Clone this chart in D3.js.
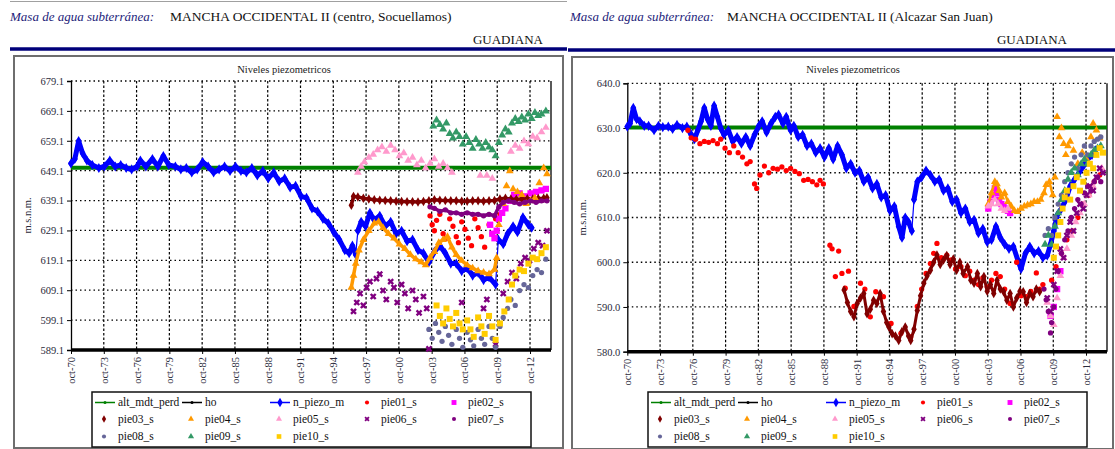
<!DOCTYPE html>
<html>
<head>
<meta charset="utf-8">
<script src="https://cdnjs.cloudflare.com/ajax/libs/d3/7.8.5/d3.min.js"></script>
<style>
  body { margin: 0; background: #fff; }
  svg { display: block; }
  svg text { font-family: 'Liberation Serif', 'Times New Roman', Times, serif; }
</style>
</head>
<body>
<svg id="chart" width="1115" height="449"></svg>
<script>
// ---- data ----
const seriesKeys = ["alt_mdt_perd", "ho", "n_piezo_m", "pie01_s", "pie02_s", "pie03_s", "pie04_s",
  "pie05_s", "pie06_s", "pie07_s", "pie08_s", "pie09_s", "pie10_s"];
const tickYears = [1970, 1973, 1976, 1979, 1982, 1985, 1988, 1991, 1994, 1997, 2000, 2003, 2006, 2009, 2012];
const tickLabels = ["oct-70", "oct-73", "oct-76", "oct-79", "oct-82", "oct-85", "oct-88", "oct-91",
  "oct-94", "oct-97", "oct-00", "oct-03", "oct-06", "oct-09", "oct-12"];
const timeRange = [1970.75, 2014.67];

// left: centro, Socuellamos
const leftYTicks = [589.1, 599.1, 609.1, 619.1, 629.1, 639.1, 649.1, 659.1, 669.1, 679.1];
const leftAlt = 650.1;
const leftHo = 589.1;
const leftPiezo = [[1970.75,651.5],[1971.1,653],[1971.45,659],[1971.8,655],[1972.2,652.5],[1972.7,651],[1973.3,650],[1973.8,650.5],[1974.3,652.5],[1974.8,650.5],[1975.3,651],[1975.8,650],[1976.3,649.5],[1976.8,650.5],[1977.1,652.5],[1977.6,650.5],[1978.2,653],[1978.7,650.5],[1979.2,654],[1979.7,651],[1980.3,650.5],[1980.8,649.5],[1981.3,650],[1981.8,648.5],[1982.3,649.5],[1982.8,652],[1983.3,650.5],[1983.8,648.5],[1984.3,649.5],[1984.8,650.5],[1985.3,649],[1985.8,650.5],[1986.3,649],[1986.8,648.5],[1987.3,650],[1987.8,647.5],[1988.3,649],[1988.8,646.5],[1989.3,648.5],[1989.8,645.5],[1990.3,646.5],[1990.8,643.5],[1991.3,644],[1991.8,640.5],[1992.3,640],[1992.8,636.5],[1993.3,635.5],[1993.8,633],[1994.3,631.5],[1994.8,628.5],[1995.3,626],[1995.8,622.5],[1996.2,621.5],[1996.5,624],[1996.8,621],[1997.0,629],[1997.3,632],[1997.7,630.5],[1998.1,635],[1998.5,632.5],[1999.0,634],[1999.5,630.5],[2000.0,632],[2000.5,628],[2001.0,629],[2001.5,625.5],[2002.0,626],[2002.5,622.5],[2003.0,621.5],[2003.5,618.5],[2004.0,622],[2004.5,624],[2005.0,621.5],[2005.5,618],[2006.0,618],[2006.5,615.5],[2007.0,616.5],[2007.5,614],[2008.0,615],[2008.5,612.5],[2009.0,613.5],[2009.6,611],[2009.85,626],[2010.3,624.5],[2010.7,628],[2011.2,630.5],[2011.6,628.5],[2012.1,633.5],[2012.6,631],[2012.9,630]];
const leftPie01 = [[2003.6,634],[2003.8,631],[2004.0,629],[2004.2,632.5],[2004.5,634.5],[2004.8,628],[2005.1,626.5],[2005.4,633],[2005.7,630.5],[2006.0,627],[2006.2,625],[2006.5,632],[2006.8,629.5],[2007.1,626.5],[2007.4,624],[2007.7,633],[2008.0,630],[2008.3,627],[2008.6,623.5],[2009.0,631],[2009.3,628],[2009.6,633],[2010.0,634.5]];
const leftPie02 = [[2009.1,631],[2009.3,628],[2009.5,626.5],[2009.7,629],[2009.9,633],[2010.2,635],[2010.5,636.5],[2010.9,639],[2011.3,641],[2011.8,641.5],[2012.3,640.5],[2012.8,641.5],[2013.3,642],[2013.8,642.5],[2014.2,643]];
const leftPie03 = [[1996.4,637.5],[1996.6,640.5],[1997.0,640.3],[1997.5,639.9],[1998.0,639.6],[1998.5,639.4],[1999.0,639.2],[1999.5,639.1],[2000.0,639.0],[2000.5,638.9],[2001.0,638.8],[2001.5,638.7],[2002.0,638.7],[2002.5,638.6],[2003.0,638.8],[2003.5,639.0],[2004.0,639.4],[2004.5,639.2],[2005.0,639.1],[2005.5,639.0],[2006.0,639.0],[2006.5,638.9],[2007.0,638.9],[2007.5,639.0],[2008.0,639.0],[2008.5,638.9],[2009.0,639.0],[2009.5,639.1],[2010.0,639.6],[2010.5,639.9],[2011.0,639.6],[2011.5,639.5],[2012.0,639.6],[2012.5,639.7],[2013.0,639.6],[2013.5,639.8],[2014.0,639.9],[2014.3,640.0]];
const leftPie04 = [[1996.4,610],[1996.6,614],[1996.8,618],[1997.1,622.5],[1997.5,626],[1998.0,629],[1998.5,631.5],[1998.9,632],[1999.3,630],[1999.8,628],[2000.3,626.5],[2000.8,624.5],[2001.3,623],[2001.8,621],[2002.3,619.5],[2002.8,618.5],[2003.2,617.5],[2003.6,620],[2004.0,622],[2004.4,625],[2004.8,626],[2005.2,627],[2005.6,623.5],[2006.0,621],[2006.5,619],[2007.0,617.5],[2007.5,616.5],[2008.0,615.5],[2008.5,615],[2009.0,614.5],[2009.5,616],[2009.7,620],[2009.9,631],[2010.3,638],[2010.6,644],[2010.9,649],[2011.2,643],[2011.6,642],[2012.0,641],[2012.4,638],[2012.8,639],[2013.2,640],[2013.6,645],[2014.0,650],[2014.3,648]];
const leftPie05 = [[1997.0,648.5],[1997.3,650.5],[1997.6,652],[1998.0,653.5],[1998.4,654.5],[1998.8,656],[1999.2,657],[1999.6,655.5],[2000.0,657.5],[2000.4,656],[2000.8,654],[2001.2,655],[2001.6,652.5],[2002.0,653.5],[2002.4,651],[2002.8,652.5],[2003.2,650],[2003.6,651.5],[2004.0,653],[2004.4,650.5],[2004.8,651.5],[2005.2,650],[2005.6,648.5],[2008.2,647.5],[2008.8,647.5],[2009.3,646.5],[2011.0,655.5],[2011.4,657.5],[2011.8,656.5],[2012.2,659],[2012.6,658],[2013.0,660.5],[2013.4,660],[2013.8,662],[2014.2,663.5]];
const leftPie06 = [[1996.6,602],[1996.9,605],[1997.2,608],[1997.5,604],[1997.8,610],[1998.1,612],[1998.4,607],[1998.7,613],[1999.0,614.5],[1999.3,609],[1999.6,606],[2000.0,612],[2000.3,610],[2000.6,605],[2001.0,611],[2001.3,608],[2001.6,603],[2002.0,609],[2002.3,606],[2002.6,601.5],[2003.0,607],[2003.3,603],[2003.5,589.5],[2006.5,605],[2008.5,603],[2008.8,606],[2009.6,591],[2010.3,608],[2010.7,612],[2011.1,615],[2011.5,613],[2011.9,618],[2012.3,620],[2012.7,619],[2013.1,623],[2013.5,625],[2013.9,624],[2014.3,629]];
const leftPie07 = [[2003.6,637],[2004.0,636.5],[2004.5,635.5],[2005.0,636],[2005.5,635],[2006.0,635],[2006.5,634.5],[2007.0,635],[2007.5,634.5],[2008.0,634.5],[2008.5,634],[2009.0,634.5],[2009.5,634],[2009.9,637],[2010.3,638.5],[2010.8,639],[2011.3,638.5],[2011.8,638],[2012.3,638.5],[2012.8,639],[2013.3,638.5],[2013.8,639],[2014.3,639]];
const leftPie08 = [[2003.5,596],[2003.8,593],[2004.1,598],[2004.4,595],[2004.7,592],[2005.0,597],[2005.3,594],[2005.6,591],[2006.0,596],[2006.3,593],[2006.6,590],[2007.0,595],[2007.3,592.5],[2007.6,590.5],[2008.0,596],[2008.3,593],[2008.6,591],[2009.0,597],[2009.3,593],[2009.6,590],[2010.0,597],[2010.3,600],[2010.7,603],[2011.0,606],[2011.4,604],[2011.8,609],[2012.2,611],[2012.6,610],[2013.0,614],[2013.4,616],[2013.8,615],[2014.2,619.5]];
const leftPie09 = [[2003.9,664],[2004.2,666],[2004.5,664.5],[2004.8,663],[2005.1,665],[2005.4,661.5],[2005.7,660],[2006.0,662],[2006.3,660.5],[2006.6,658],[2006.9,660.5],[2007.2,658.5],[2007.5,656.5],[2007.8,659.5],[2008.1,658],[2008.4,656.5],[2008.7,658.5],[2009.0,657],[2009.3,656],[2009.6,654],[2009.9,658.5],[2010.2,661],[2010.5,663],[2010.8,662],[2011.1,665],[2011.4,666.5],[2011.7,665.5],[2012.0,667],[2012.3,666],[2012.6,668],[2012.9,666.5],[2013.2,668.5],[2013.5,667.5],[2013.8,668],[2014.2,669]];
const leftPie10 = [[2004.2,604],[2004.5,600.5],[2004.8,598],[2005.1,603],[2005.4,599.5],[2005.7,597],[2006.0,601.5],[2006.3,598],[2006.6,596],[2007.0,599],[2007.3,596],[2007.6,593.5],[2008.0,600],[2008.3,597],[2008.6,594.5],[2009.0,600.5],[2009.3,597],[2009.6,592.5],[2010.0,598],[2010.4,602],[2010.8,606],[2011.1,611],[2011.4,614],[2011.8,616],[2012.2,615.5],[2012.6,618],[2013.0,620],[2013.4,619.5],[2013.8,621.5],[2014.2,623.5]];

// right: Alcazar San Juan
const rightYTicks = [580, 590, 600, 610, 620, 630, 640];
const rightAlt = 630.1;
const rightHo = 580;
const rightPiezo = [[1970.75,630.3],[1971.0,631],[1971.3,634.5],[1971.6,632],[1971.9,631.5],[1972.3,630.5],[1972.7,630.5],[1973.2,629.5],[1973.6,630.5],[1974.0,630.2],[1974.5,630.3],[1974.9,629.8],[1975.3,630.7],[1975.8,630],[1976.2,630.3],[1976.6,628.5],[1976.9,627.5],[1977.2,629.5],[1977.5,631.5],[1977.8,634.5],[1978.1,632],[1978.4,630.5],[1978.7,635],[1979.0,632.5],[1979.3,630],[1979.6,628.5],[1980.0,629.5],[1980.4,627],[1980.8,628],[1981.2,626.5],[1981.6,628],[1982.0,626],[1982.4,628.5],[1982.8,630.5],[1983.1,631.5],[1983.5,629],[1983.9,631],[1984.3,632.5],[1984.6,633],[1985.0,631],[1985.3,632.5],[1985.7,629.5],[1986.0,630.5],[1986.4,628],[1986.8,628.5],[1987.2,626],[1987.6,626.5],[1988.0,624.5],[1988.4,625.5],[1988.8,623.5],[1989.2,625.5],[1989.6,623],[1990.0,626],[1990.4,624],[1990.8,621],[1991.2,622],[1991.6,620],[1992.0,620.5],[1992.4,618],[1992.8,619],[1993.2,616.5],[1993.6,617.5],[1994.0,614.5],[1994.4,615],[1994.8,611.5],[1995.2,612.5],[1995.6,608],[1995.9,605.5],[1996.2,610],[1996.5,609],[1996.8,607],[1997.0,614],[1997.3,618],[1997.7,619],[1998.1,620.5],[1998.5,619.5],[1998.9,618],[1999.3,618.5],[1999.7,616],[2000.1,616.5],[2000.5,613.5],[2000.9,614],[2001.3,611],[2001.7,612],[2002.1,609],[2002.5,609.5],[2002.9,606.5],[2003.3,607.5],[2003.7,604.5],[2004.1,605],[2004.5,608],[2004.9,605.5],[2005.3,604],[2005.7,603],[2006.1,603.5],[2006.5,600.5],[2006.8,598.5],[2007.2,602],[2007.6,603.5],[2008.0,602],[2008.4,602.5],[2008.8,601],[2009.2,601.5],[2009.5,604],[2009.8,607],[2010.1,610.5],[2010.5,612],[2010.9,614],[2011.3,617],[2011.7,618.5],[2012.1,620],[2012.5,621.5],[2012.9,623],[2013.3,624],[2013.6,625]];
const rightPie01 = [[1976.3,629.5],[1976.6,627.8],[1977.0,627.5],[1977.4,626.5],[1977.8,627],[1978.2,626.8],[1978.6,627.2],[1979.0,626.5],[1979.3,627.5],[1979.7,625.5],[1980.1,624.5],[1980.5,626],[1980.9,624.5],[1981.3,623.5],[1981.7,622],[1982.0,622.5],[1982.4,617.5],[1982.6,616.5],[1982.9,619.5],[1983.3,621.5],[1983.7,620],[1984.1,621],[1984.5,620.8],[1984.9,621.3],[1985.3,620.5],[1985.7,621],[1986.1,620.3],[1986.5,619.8],[1986.9,618.3],[1987.3,618.5],[1987.7,618],[1988.1,617.3],[1988.4,618.3],[1988.7,617.5],[1989.3,603.8],[1989.5,603],[1989.8,596.8],[1990.1,602.5],[1990.4,597.5],[1990.7,594.2],[1991.0,598],[1991.5,590.1],[1992.1,595.3],[1992.5,594],[1993.0,587.8],[1993.5,593.4],[1994.2,592.3],[1994.9,586.3],[1995.8,584.1],[1996.7,583.3],[1997.3,590.1],[1997.7,594],[1998.1,597.5],[1998.5,599.7],[1998.8,602],[1999.1,604.2],[1999.5,601],[2000.0,601.6],[2000.4,600.5],[2000.8,598.5],[2001.3,599],[2001.7,597],[2002.1,598],[2002.5,596],[2002.9,595],[2003.3,596.5],[2003.7,594.5],[2004.1,596],[2004.5,597.5],[2004.9,596.8],[2005.3,594],[2005.8,590.8],[2006.4,600],[2006.8,592.5],[2007.3,592.3],[2007.7,593.5],[2008.2,597.6],[2008.5,594],[2008.8,595],[2009.6,596],[2010.0,599],[2010.5,602],[2011.0,605],[2011.5,607],[2012.0,610],[2012.5,613],[2013.0,615],[2013.5,618],[2014.0,619.5]];
const rightPie02 = [[2003.8,612],[2004.0,613.5],[2004.2,615],[2004.4,616.5],[2004.6,615.5],[2004.8,614],[2005.0,613],[2005.2,612.5],[2005.4,612],[2005.6,611.5],[2005.8,611],[2009.5,588],[2009.8,590],[2010.1,594],[2010.4,598]];
const rightPie03 = [[1990.6,593.8],[1990.9,591],[1991.2,589],[1991.5,587.8],[1991.8,590.8],[1992.1,592],[1992.4,593],[1992.7,588.5],[1993.0,589.5],[1993.3,591.5],[1993.6,590.8],[1993.9,593],[1994.2,589],[1994.5,586.5],[1994.7,585.5],[1995.0,584],[1995.3,583.5],[1995.6,582.5],[1995.9,584.5],[1996.2,585.5],[1996.5,583.5],[1996.7,582.5],[1997.0,585],[1997.3,589.2],[1997.6,592.5],[1997.9,595.3],[1998.2,597],[1998.5,598.2],[1998.8,600],[1999.1,601.6],[1999.4,599.5],[1999.7,600.5],[2000.0,601.5],[2000.3,599.5],[2000.6,600.7],[2000.9,598.2],[2001.2,600],[2001.5,597.5],[2001.9,599],[2002.2,596],[2002.5,595.3],[2002.8,597.5],[2003.1,594.5],[2003.4,596.8],[2003.7,593.5],[2004.0,595],[2004.3,593],[2004.6,596],[2004.9,594],[2005.2,593.4],[2005.5,591.5],[2005.8,593],[2006.1,590],[2006.4,592],[2006.7,593.5],[2007.0,593.4],[2007.3,591],[2007.6,593],[2007.9,592.3],[2008.2,594],[2008.5,593.4]];
const rightPie04 = [[2003.8,613],[2004.1,615.5],[2004.4,618],[2004.6,617.5],[2004.8,616],[2005.0,614.5],[2005.3,615.5],[2005.6,613.5],[2005.9,612.5],[2006.2,611.5],[2006.5,611.3],[2006.8,612],[2007.1,612.5],[2007.4,612.8],[2007.7,613],[2008.0,613.5],[2008.3,613.5],[2008.6,614],[2008.9,615.5],[2009.1,617.3],[2009.4,618],[2009.7,615],[2009.9,619],[2010.1,632.5],[2010.3,628],[2010.5,630],[2010.7,626.5],[2010.9,624],[2011.1,626],[2011.3,627],[2011.6,625],[2012.0,622],[2012.4,624.5],[2012.8,623],[2013.2,628],[2013.4,631],[2013.7,629.5],[2014.0,627.7]];
const rightPie05 = [[2003.8,612.5],[2004.1,613],[2004.4,614],[2004.7,613],[2005.0,612],[2005.3,611.5],[2005.6,612],[2009.2,591],[2009.5,588],[2009.8,586],[2010.1,592],[2010.4,597],[2010.7,601],[2011.0,603],[2011.4,606],[2011.8,609],[2012.2,611],[2012.6,613],[2013.0,615],[2013.4,617],[2013.8,619],[2014.2,621]];
const rightPie06 = [[2009.2,592],[2009.5,589],[2009.8,595],[2010.1,598],[2010.4,603],[2010.7,601],[2011.0,606],[2011.3,609],[2011.6,607],[2011.9,611],[2012.2,613],[2012.5,612],[2012.8,615],[2013.1,617],[2013.4,616],[2013.7,619],[2014.0,621],[2014.3,620]];
const rightPie07 = [[2008.9,594],[2009.1,591.6],[2009.3,589],[2009.5,584.2],[2009.6,586.5],[2009.8,590],[2010.0,594],[2010.2,598],[2010.5,602],[2010.8,605],[2011.1,607],[2011.4,610],[2011.7,612],[2012.0,614],[2012.3,613],[2012.6,615.5],[2012.9,617],[2013.2,616],[2013.5,618],[2013.8,619],[2014.1,618]];
const rightPie08 = [[2009.0,606],[2009.3,607.5],[2009.6,606],[2009.9,610],[2010.2,613],[2010.5,615],[2010.8,618],[2011.1,620],[2011.4,622],[2011.7,623.5],[2012.0,621],[2012.3,624],[2012.6,626],[2012.9,624],[2013.2,626],[2013.5,627],[2013.8,627.5],[2014.1,628]];
const rightPie09 = [[2009.0,604],[2009.3,606],[2009.6,604],[2009.9,608],[2010.2,611],[2010.5,614],[2010.8,616],[2011.1,618.5],[2011.4,620],[2011.7,621],[2012.0,619.5],[2012.3,622],[2012.6,623],[2012.9,622],[2013.2,624],[2013.5,625],[2013.8,625.5],[2014.1,626]];
const rightPie10 = [[2009.8,601],[2010.0,603.5],[2010.2,606],[2010.4,609],[2010.6,612],[2010.8,614.5],[2011.0,616],[2011.3,614],[2011.6,617],[2011.9,619],[2012.2,616],[2012.5,618],[2012.8,620],[2013.1,622],[2013.4,621],[2013.7,624],[2014.0,625.5],[2014.3,624.5]];

// ---- styles ----
const colors = {
  alt_mdt_perd: "#008000", ho: "#000000", n_piezo_m: "#0000ff", pie01_s: "#ff0000", pie02_s: "#ff00ff",
  pie03_s: "#800000", pie04_s: "#ff9900", pie05_s: "#ff99cc", pie06_s: "#800080", pie07_s: "#800080",
  pie08_s: "#666699", pie09_s: "#339966", pie10_s: "#ffcc00"
};
const symbols = {
  n_piezo_m: [d3.symbolDiamond, 30], pie01_s: [d3.symbolCircle, 22], pie02_s: [d3.symbolSquare, 40],
  pie03_s: [d3.symbolDiamond, 26], pie04_s: [d3.symbolTriangle, 26], pie05_s: [d3.symbolTriangle, 26],
  pie06_s: [d3.symbolCross, 28], pie07_s: [d3.symbolCircle, 22], pie08_s: [d3.symbolCircle, 22],
  pie09_s: [d3.symbolTriangle, 28], pie10_s: [d3.symbolSquare, 36]
};

const panels = [
  {
    name: "MANCHA OCCIDENTAL II (centro, Socuellamos)",
    headX: 10, nameX: 170, guadX: 543, rule: [10, 567, 49], topRule: true,
    box: [14, 56, 549, 392],
    plot: { l: 71, r: 551, t: 81, b: 350 },
    yTicks: leftYTicks, titleX: 284, yLabelX: 31,
    legend: { x: 92, y: 392, w: 439, h: 55 },
    alt: leftAlt, ho: leftHo,
    series: { n_piezo_m: leftPiezo, pie01_s: leftPie01, pie02_s: leftPie02, pie03_s: leftPie03, pie04_s: leftPie04,
      pie05_s: leftPie05, pie06_s: leftPie06, pie07_s: leftPie07, pie08_s: leftPie08, pie09_s: leftPie09, pie10_s: leftPie10 },
    // heavy trace width and the last year that is drawn as a continuous trace
    joined: { pie03_s: [3.5, 2015], pie04_s: [3.5, 2009.8], pie07_s: [3.5, 2015] }
  },
  {
    name: "MANCHA OCCIDENTAL II (Alcazar San Juan)",
    headX: 570, nameX: 727, guadX: 1067, rule: [568, 1115, 50], topRule: false,
    box: [572, 57, 541, 392],
    plot: { l: 627.3, r: 1107, t: 83.3, b: 351.7 },
    yTicks: rightYTicks, titleX: 853, yLabelX: 586,
    legend: { x: 648, y: 392, w: 439, h: 55 },
    alt: rightAlt, ho: rightHo,
    series: { n_piezo_m: rightPiezo, pie01_s: rightPie01, pie02_s: rightPie02, pie03_s: rightPie03, pie04_s: rightPie04,
      pie05_s: rightPie05, pie06_s: rightPie06, pie07_s: rightPie07, pie08_s: rightPie08, pie09_s: rightPie09, pie10_s: rightPie10 },
    joined: { pie03_s: [3, 2015], pie04_s: [2.5, 2009.8] }
  }
];

const svg = d3.select("#chart");
const fmt = d3.format(".1f");

function marker(g, key, size, x, y) {
  const [type, area] = symbols[key];
  const rot = key === "pie06_s" ? " rotate(45)" : "";
  return g.append("path")
    .attr("d", d3.symbol(type, size || area)())
    .attr("transform", `translate(${x},${y})${rot}`)
    .attr("fill", colors[key]);
}

panels.forEach(p => {
  const g = svg.append("g");

  // header
  if (p.topRule) g.append("line").attr("x1", p.rule[0]).attr("x2", p.rule[1]).attr("y1", 1.5).attr("y2", 1.5)
    .attr("stroke", "#a0a0a0").attr("stroke-width", 1);
  g.append("text").attr("x", p.headX).attr("y", 20.5).attr("font-size", 13)
    .attr("font-style", "italic").attr("fill", "#23237a").text("Masa de agua subterránea:");
  g.append("text").attr("x", p.nameX).attr("y", 20.5).attr("font-size", 13.5)
    .attr("fill", "#111").text(p.name);
  g.append("text").attr("x", p.guadX).attr("y", 44).attr("text-anchor", "end")
    .attr("font-size", 13).attr("fill", "#111").text("GUADIANA");
  g.append("line").attr("x1", p.rule[0]).attr("x2", p.rule[1]).attr("y1", p.rule[2]).attr("y2", p.rule[2])
    .attr("stroke", "#00007a").attr("stroke-width", 3.5);

  // chart frame
  g.append("rect").attr("x", p.box[0]).attr("y", p.box[1]).attr("width", p.box[2]).attr("height", p.box[3])
    .attr("fill", "#fff").attr("stroke", "#6e6e6e").attr("stroke-width", 2);

  const x = d3.scaleLinear().domain(timeRange).range([p.plot.l, p.plot.r]);
  const y = d3.scaleLinear().domain(d3.extent(p.yTicks)).range([p.plot.b, p.plot.t]);
  const xTicks = tickYears.map(v => v + 0.75);

  // title
  g.append("text").attr("x", p.titleX).attr("y", 73).attr("text-anchor", "middle")
    .attr("font-size", 10.5).attr("fill", "#222").text("Niveles piezometricos");

  // grid
  g.append("g").selectAll("line").data(p.yTicks.slice(1)).join("line")
    .attr("x1", p.plot.l).attr("x2", p.plot.r).attr("y1", d => y(d)).attr("y2", d => y(d))
    .attr("stroke", "#000").attr("stroke-width", 1.3).attr("stroke-dasharray", "1.5,3");
  g.append("g").selectAll("line").data(xTicks.slice(1)).join("line")
    .attr("x1", d => x(d)).attr("x2", d => x(d)).attr("y1", p.plot.t).attr("y2", p.plot.b)
    .attr("stroke", "#000").attr("stroke-width", 1.2).attr("stroke-dasharray", "2.5,2");
  g.append("line").attr("x1", p.plot.r).attr("x2", p.plot.r).attr("y1", p.plot.t).attr("y2", p.plot.b)
    .attr("stroke", "#000").attr("stroke-width", 1.3);

  // axes
  const yAxis = g.append("g").attr("transform", `translate(${p.plot.l},0)`)
    .call(d3.axisLeft(y).tickValues(p.yTicks).tickFormat(fmt).tickSize(4).tickPadding(3));
  yAxis.attr("font-family", null);
  yAxis.select(".domain").attr("stroke-width", 1.3);
  yAxis.selectAll("text").attr("font-size", 10.5).attr("fill", "#2a2a3a");

  const xAxis = g.append("g").attr("transform", `translate(0,${p.plot.b})`)
    .call(d3.axisBottom(x).tickValues(xTicks).tickFormat((d, i) => tickLabels[i]).tickSize(4));
  xAxis.attr("font-family", null);
  xAxis.select(".domain").remove();
  xAxis.selectAll("text").attr("font-size", 10.5).attr("fill", "#2a2a3a")
    .attr("transform", "rotate(-90)").attr("text-anchor", "end").attr("x", -7).attr("y", 0).attr("dy", "0.33em");

  g.append("text").attr("transform", `translate(${p.yLabelX},${(p.plot.t + p.plot.b) / 2}) rotate(-90)`)
    .attr("text-anchor", "middle").attr("font-size", 10.5).attr("fill", "#2a2a3a")
    .text("m.s.n.m.");

  // series
  const line = d3.line().x(d => x(d[0])).y(d => y(d[1]));
  g.append("line").attr("x1", x(timeRange[0])).attr("x2", x(timeRange[1]))
    .attr("y1", y(p.alt)).attr("y2", y(p.alt)).attr("stroke", colors.alt_mdt_perd).attr("stroke-width", 4);
  g.append("line").attr("x1", x(timeRange[0])).attr("x2", x(timeRange[1]))
    .attr("y1", y(p.ho)).attr("y2", y(p.ho)).attr("stroke", colors.ho).attr("stroke-width", 3.5);

  seriesKeys.slice(2).forEach(key => {
    const data = p.series[key];
    const sg = g.append("g");
    if (key === "n_piezo_m") {
      // thin connecting line plus a heavy band broken at the big jumps
      sg.append("path").datum(data).attr("d", line).attr("fill", "none")
        .attr("stroke", colors[key]).attr("stroke-width", 1.2);
      let seg = [];
      const segs = [seg];
      data.forEach((d, i) => {
        if (i > 0 && Math.abs(d[1] - data[i - 1][1]) > 6) { seg = []; segs.push(seg); }
        seg.push(d);
      });
      sg.selectAll(".band").data(segs).join("path").attr("d", line).attr("fill", "none")
        .attr("stroke", colors[key]).attr("stroke-width", 5).attr("stroke-linejoin", "round")
        .attr("stroke-linecap", "round");
    } else if (p.joined[key]) {
      const [w, until] = p.joined[key];
      sg.append("path").datum(data.filter(d => d[0] <= until)).attr("d", line).attr("fill", "none")
        .attr("stroke", colors[key]).attr("stroke-width", w).attr("stroke-linejoin", "round");
    }
    data.forEach(d => marker(sg, key, null, x(d[0]), y(d[1])));
  });

  // legend
  const L = p.legend;
  const lg = g.append("g");
  lg.append("rect").attr("x", L.x).attr("y", L.y).attr("width", L.w).attr("height", L.h)
    .attr("fill", "#fff").attr("stroke", "#111").attr("stroke-width", 1.5);
  const colX = [26, 113, 201, 289, 376];
  const rowY = [10.5, 27, 44.5];
  seriesKeys.forEach((key, i) => {
    const tx = L.x + colX[i % 5];
    const ty = L.y + rowY[Math.floor(i / 5)];
    if (i < 3) {
      lg.append("line").attr("x1", tx - 23).attr("x2", tx - 3).attr("y1", ty).attr("y2", ty)
        .attr("stroke", colors[key]).attr("stroke-width", 1.5);
      if (key === "n_piezo_m") marker(lg, key, 26, tx - 13, ty);
      else lg.append("circle").attr("cx", tx - 13).attr("cy", ty).attr("r", 1.5).attr("fill", colors[key]);
    } else {
      marker(lg, key, symbols[key][1] * 0.6, tx - 14, ty);
    }
    lg.append("text").attr("x", tx).attr("y", ty + 3.8).attr("font-size", 11.5)
      .attr("fill", "#111").text(key);
  });
});
</script>
</body>
</html>
